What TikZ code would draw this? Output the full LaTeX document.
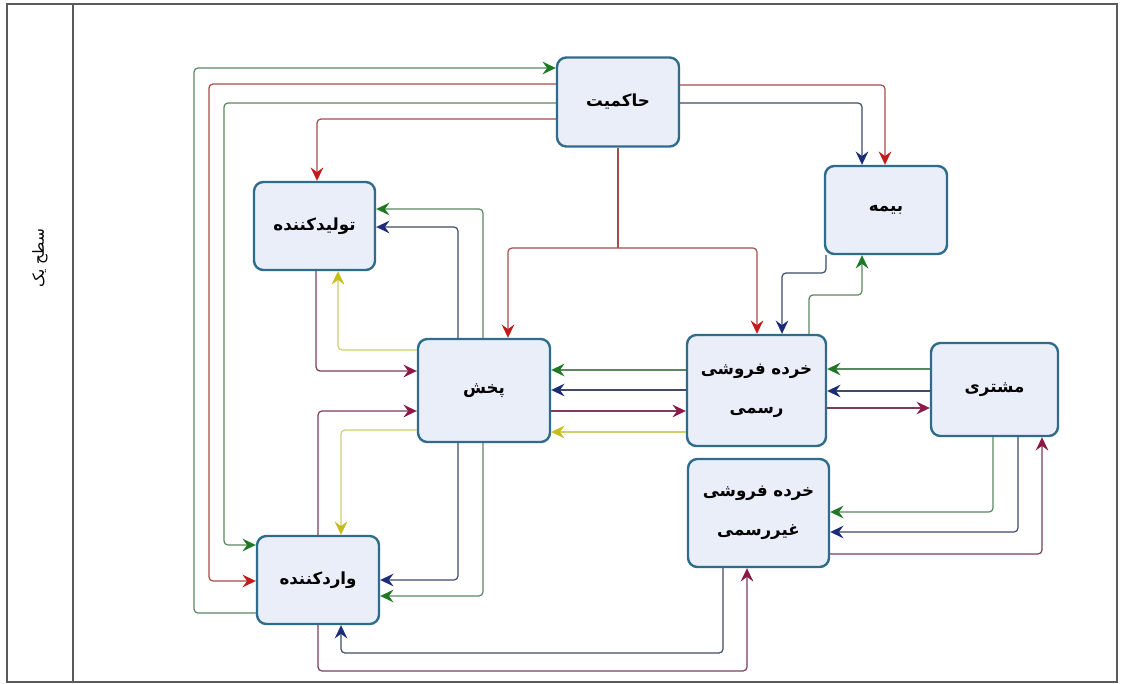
\documentclass[tikz,border=0pt]{standalone}
\usepackage{fontspec}
\newfontfamily\farsifont[Script=Arabic]{DejaVu Sans}
\TeXXeTstate=1
\usepackage{tikz}
\usetikzlibrary{arrows.meta}
\definecolor{boxfill}{HTML}{E9EEF9}
\definecolor{boxdraw}{HTML}{2F6C8C}
\definecolor{framegray}{HTML}{5A5A5A}
\definecolor{linegreen}{HTML}{5A8660}
\definecolor{tipgreen}{HTML}{1E7A22}
\definecolor{linered}{HTML}{A84A4A}
\definecolor{tipred}{HTML}{C41A1A}
\definecolor{lineblue}{HTML}{3E4A68}
\definecolor{tipblue}{HTML}{1B2C78}
\definecolor{linepurple}{HTML}{7C3C5C}
\definecolor{tippurple}{HTML}{8C1848}
\definecolor{lineyellow}{HTML}{CFCF70}
\definecolor{tipyellow}{HTML}{C6BC1A}
\newcommand{\fatext}[1]{{\farsifont\bfseries\beginR #1\endR}}
\tikzstyle{entity} = [draw=boxdraw, fill=boxfill, line width=1.8pt, rounded corners=7pt, align=center, font=\fontsize{12.5}{29}\selectfont]
\tikzstyle{frame} = [draw=framegray, line width=0.8pt]
\tikzstyle{flow} = [line width=0.9pt, rounded corners=3pt]
\tikzstyle{flowg} = [flow, draw=linegreen, -{Stealth[length=10pt, width=9.5pt, inset=3.5pt, color=tipgreen]}]
\tikzstyle{flowr} = [flow, draw=linered, -{Stealth[length=10pt, width=9.5pt, inset=3.5pt, color=tipred]}]
\tikzstyle{flowb} = [flow, draw=lineblue, -{Stealth[length=10pt, width=9.5pt, inset=3.5pt, color=tipblue]}]
\tikzstyle{flowp} = [flow, draw=linepurple, -{Stealth[length=10pt, width=9.5pt, inset=3.5pt, color=tippurple]}]
\tikzstyle{flowy} = [flow, draw=lineyellow, -{Stealth[length=10pt, width=9.5pt, inset=3.5pt, color=tipyellow]}]
\begin{document}
\begin{tikzpicture}[x=0.75pt, y=-0.75pt]
	\useasboundingbox (0,0) rectangle (1123,684);
	% swimlane
	\draw[frame] (7,4) rectangle (1117,682);
	\draw[frame] (73,4) -- (73,682);
	\node (level) [rotate=90, font=\fontsize{11.5}{14}\selectfont] at (40,258) {{\farsifont\beginR سطح یک\endR}};
	% actors
	\node (hakemiyat) [entity, minimum width=91.5pt, minimum height=66.75pt] at (618,102) {\fatext{حاکمیت}};
	\node (tolid) [entity, minimum width=90.75pt, minimum height=66pt] at (314.5,226) {\fatext{تولیدکننده}};
	\node (bime) [entity, minimum width=91.5pt, minimum height=66pt] at (886,210) {\fatext{بیمه}};
	\node (pakhsh) [entity, minimum width=99pt, minimum height=77.25pt] at (484,390.5) {\fatext{پخش}};
	\node (rasmi) [entity, minimum width=104.25pt, minimum height=83.25pt] at (756.5,390.5) {\fatext{خرده فروشی}\\\fatext{رسمی}};
	\node (moshtari) [entity, minimum width=95.25pt, minimum height=69.75pt] at (994.5,389.5) {\fatext{مشتری}};
	\node (gheyr) [entity, minimum width=105.75pt, minimum height=81pt] at (758.5,513) {\fatext{خرده فروشی}\\\fatext{غیررسمی}};
	\node (vared) [entity, minimum width=91.5pt, minimum height=66pt] at (318,580) {\fatext{واردکننده}};
	% hakemiyat
	\draw[flowg] (vared.west |- 0,613) -- (194,613) -- (194,68) -- (hakemiyat.west |- 0,68);
	\draw[flowr] (hakemiyat.west |- 0,84) -- (209,84) -- (209,581) -- (vared.west |- 0,581);
	\draw[flowg] (hakemiyat.west |- 0,103) -- (224,103) -- (224,545) -- (vared.west |- 0,545);
	\draw[flowr] (hakemiyat.west |- 0,119) -- (317,119) -- (317,0 |- tolid.north);
	\draw[flowr] (hakemiyat.east |- 0,85) -- (885,85) -- (885,0 |- bime.north);
	\draw[flowb] (hakemiyat.east |- 0,103) -- (862,103) -- (862,0 |- bime.north);
	\coordinate (branch) at (618,248);
	\draw[flow, draw=linered] (hakemiyat.south) -- (branch);
	\draw[flowr] (branch) -- (508,248) -- (508,0 |- pakhsh.north);
	\draw[flowr] (branch) -- (757,248) -- (757,0 |- rasmi.north);
	% bime
	\draw[flowb] (826,0 |- bime.south) -- (826,273) -- (782,273) -- (782,0 |- rasmi.north);
	\draw[flowg] (809,0 |- rasmi.north) -- (809,295) -- (862,295) -- (862,0 |- bime.south);
	% tolid
	\draw[flowg] (483,0 |- pakhsh.north) -- (483,209) -- (tolid.east |- 0,209);
	\draw[flowb] (458,0 |- pakhsh.north) -- (458,227) -- (tolid.east |- 0,227);
	\draw[flowy] (pakhsh.west |- 0,350) -- (338,350) -- (338,0 |- tolid.south);
	\draw[flowp] (316,0 |- tolid.south) -- (316,371) -- (pakhsh.west |- 0,371);
	% vared
	\draw[flowp] (318,0 |- vared.north) -- (318,411) -- (pakhsh.west |- 0,411);
	\draw[flowy] (pakhsh.west |- 0,430) -- (341,430) -- (341,0 |- vared.north);
	\draw[flowb] (458,0 |- pakhsh.south) -- (458,580) -- (vared.east |- 0,580);
	\draw[flowg] (483,0 |- pakhsh.south) -- (483,596) -- (vared.east |- 0,596);
	% pakhsh - rasmi
	\draw[flowg] (rasmi.west |- 0,370) -- (pakhsh.east |- 0,370);
	\draw[flowb] (rasmi.west |- 0,390) -- (pakhsh.east |- 0,390);
	\draw[flowp] (pakhsh.east |- 0,411) -- (rasmi.west |- 0,411);
	\draw[flowy] (rasmi.west |- 0,432) -- (pakhsh.east |- 0,432);
	% moshtari
	\draw[flowg] (moshtari.west |- 0,369) -- (rasmi.east |- 0,369);
	\draw[flowb] (moshtari.west |- 0,391) -- (rasmi.east |- 0,391);
	\draw[flowp] (rasmi.east |- 0,408) -- (moshtari.west |- 0,408);
	\draw[flowg] (993,0 |- moshtari.south) -- (993,512) -- (gheyr.east |- 0,512);
	\draw[flowb] (1018,0 |- moshtari.south) -- (1018,532) -- (gheyr.east |- 0,532);
	\draw[flowp] (gheyr.east |- 0,554) -- (1042,554) -- (1042,0 |- moshtari.south);
	% gheyr - vared
	\draw[flowb] (723,0 |- gheyr.south) -- (723,653) -- (341,653) -- (341,0 |- vared.south);
	\draw[flowp] (318,0 |- vared.south) -- (318,671) -- (747,671) -- (747,0 |- gheyr.south);
\end{tikzpicture}
\end{document}
